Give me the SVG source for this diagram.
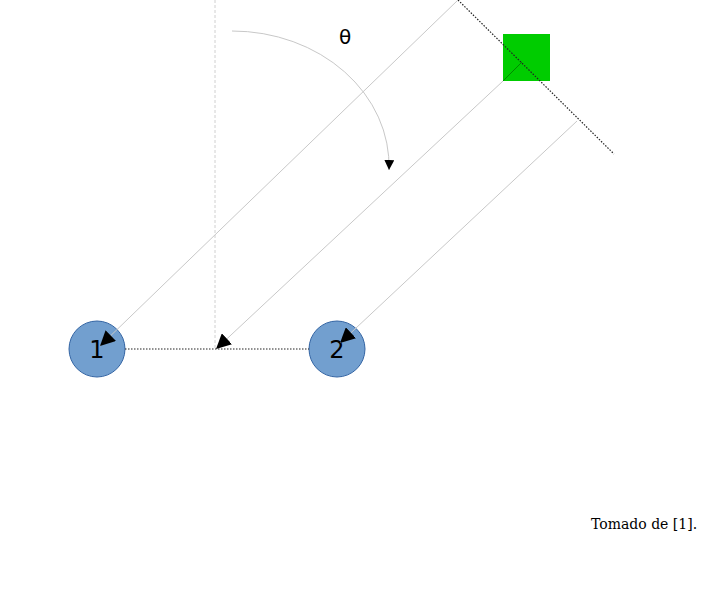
<svg xmlns="http://www.w3.org/2000/svg" width="716" height="602" viewBox="0 0 716 602">
<style>
.ray{stroke:#c8c8c8;stroke-width:1;fill:none}
.dot{stroke:#222;stroke-width:1.2;stroke-dasharray:1.5 1.5;fill:none}
.node{fill:#729fcf;stroke:#3465a4;stroke-width:1}
.lbl{font-family:"DejaVu Sans","Liberation Sans",sans-serif;font-size:24px;fill:#000;text-anchor:middle}
</style>
<defs>
<marker id="ah" viewBox="0 0 10 10" refX="10" refY="5" markerWidth="15" markerHeight="15" markerUnits="userSpaceOnUse" orient="auto">
<path d="M0,0 L10,5 L0,10 z" fill="#000"/>
</marker>
<marker id="ahs" viewBox="0 0 10 10" refX="10" refY="5" markerWidth="10" markerHeight="10" markerUnits="userSpaceOnUse" orient="auto">
<path d="M0,0 L10,5 L0,10 z" fill="#000"/>
</marker>
</defs>
<g id="source">
<rect x="503" y="34" width="47" height="47" fill="#00cc00"/>
<line x1="503" y1="81" x2="522" y2="62" stroke="#008800" stroke-width="1"/>
</g>
<g id="node1">
<circle class="node" cx="97" cy="349" r="28"/>
<text class="lbl" x="97" y="358">1</text>
</g>
<g id="node2">
<circle class="node" cx="337" cy="349" r="28"/>
<text class="lbl" x="337" y="358">2</text>
</g>
<g id="connectors">
<line x1="215" y1="0" x2="215" y2="349" stroke="#d0d0d0" stroke-width="1" stroke-dasharray="3 2"/>
<line class="dot" x1="458" y1="0" x2="614" y2="154"/>
<line class="dot" x1="125" y1="349" x2="309" y2="349"/>
<path class="ray" d="M458,0 L100,346" marker-end="url(#ah)"/>
<path class="ray" d="M503,81 L216,349" marker-end="url(#ah)"/>
<path class="ray" d="M577,121 L340,343" marker-end="url(#ah)"/>
<path class="ray" d="M232,31 A157,135 0 0 1 389,170" marker-end="url(#ahs)"/>
</g>
<text x="345" y="44" font-family="DejaVu Sans, sans-serif" font-size="20" text-anchor="middle">θ</text>
<text x="591" y="529" font-family="DejaVu Serif, serif" font-size="14">Tomado de [1].</text>
</svg>
